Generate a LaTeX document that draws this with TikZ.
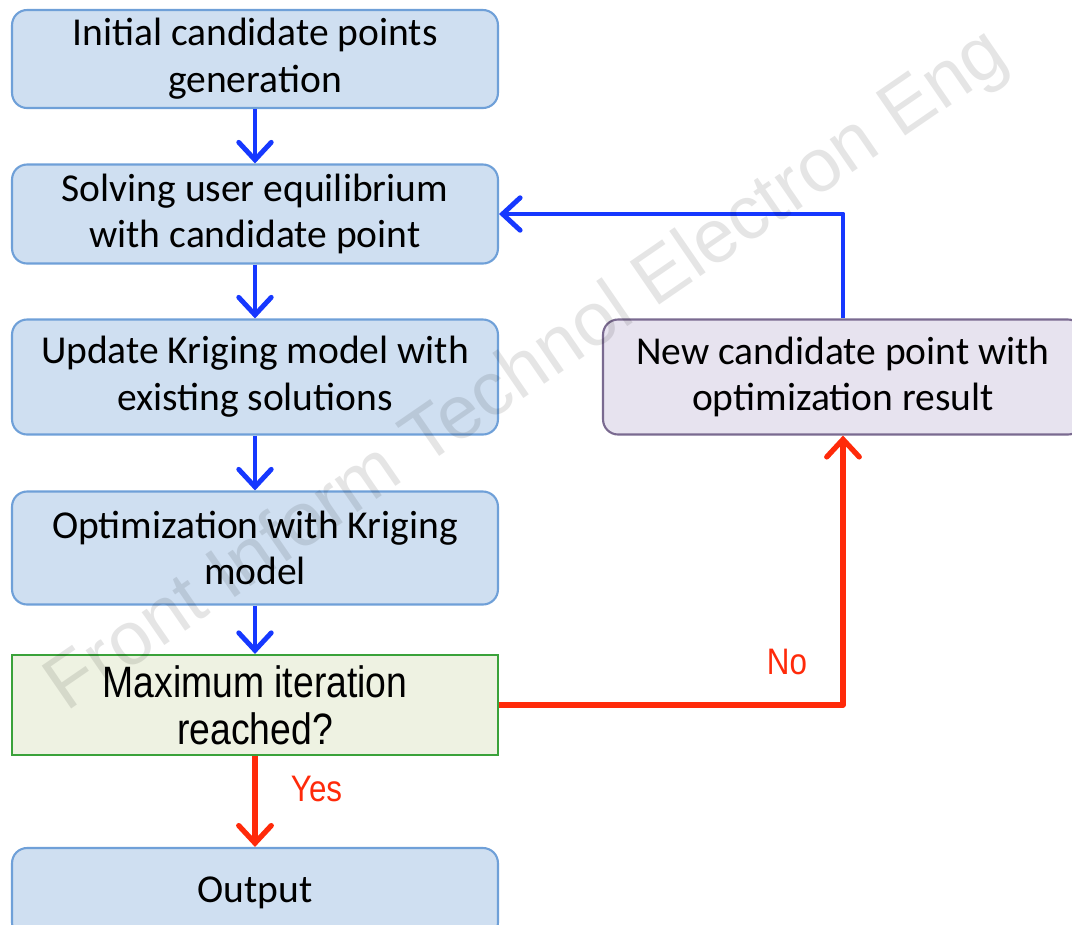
\documentclass[tikz,border=0pt]{standalone}
\usepackage{fontspec}
\setmainfont{Carlito}
\newfontfamily\narrowfont[FakeStretch=0.85]{Liberation Sans}
\newfontfamily\markfont{Liberation Sans}
\usetikzlibrary{arrows.meta}

\definecolor{boxblue}{HTML}{CFDFF1}
\definecolor{lineblue}{HTML}{6FA0D8}
\definecolor{boxgreen}{HTML}{EEF2E2}
\definecolor{linegreen}{HTML}{3AA23A}
\definecolor{boxpurple}{HTML}{E7E3EF}
\definecolor{linepurple}{HTML}{7A6A90}
\definecolor{flowblue}{HTML}{1638FF}
\definecolor{flowred}{HTML}{FF2A0A}

\begin{document}
\begin{tikzpicture}[x=0.02cm,y=-0.02cm]

\tikzset{%
  stepbox/.style  = {draw=lineblue,fill=boxblue,line width=1.2pt,rounded corners=0.3cm,
                     minimum width=9.72cm,align=center,font=\fontsize{22.5}{26.6}\selectfont},
  testbox/.style  = {draw=linegreen,fill=boxgreen,line width=1.2pt,
                     minimum width=9.72cm,minimum height=2cm,align=center,
                     font=\narrowfont\fontsize{25}{26.6}\selectfont},
  newbox/.style   = {draw=linepurple,fill=boxpurple,line width=1.2pt,rounded corners=0.3cm,
                     minimum width=9.6cm,minimum height=2.3cm,align=center,
                     font=\fontsize{22.5}{26.6}\selectfont},
  flow/.style     = {flowblue,line width=2.8pt,-{Straight Barb[length=3.5mm,width=6.5mm,line cap=round]}},
  decide/.style   = {flowred,line width=3pt,-{Straight Barb[length=3.5mm,width=6.5mm,line cap=round]}},
  answer/.style   = {flowred,font=\narrowfont\fontsize{21}{24}\selectfont},
}

\useasboundingbox (0,0) rectangle (1072,924);

% Main column
\node[stepbox,minimum height=1.96cm] (init)  at (255,59)  {Initial candidate points\\generation};
\node[stepbox,minimum height=1.98cm] (solve) at (255,214) {Solving user equilibrium\\with candidate point};
\node[stepbox,minimum height=2.3cm]  (upd)   at (255,377) {Update Kriging model with\\existing solutions};
\node[stepbox,minimum height=2.26cm] (opt)   at (255,548) {Optimization with Kriging\\model};
\node[testbox]                       (max)   at (255,705) {Maximum iteration\\reached?};
\node[stepbox,minimum height=1.8cm]  (out)   at (255,893) {Output};

% Loop box
\node[newbox] (new) at (843,377) {New candidate point with\\optimization result};

% Blue connectors
\draw[flow] (init) -- (solve);
\draw[flow] (solve) -- (upd);
\draw[flow] (upd) -- (opt);
\draw[flow] (opt) -- (max);
\draw[flow,line join=round] (new.north) |- (solve.east);

% Red connectors
\draw[decide] (max) -- node[answer,right=0.55cm,pos=0.36]{Yes} (out);
\draw[decide,line join=round] (max.east) -| node[answer,left=0.55cm,pos=0.58]{No} (new.south);

% Watermark
\node[font=\markfont\fontsize{43}{43}\selectfont,text=black,opacity=0.1,rotate=34.5]
  (mark) at (528,372) {Front Inform Technol Electron Eng};

\end{tikzpicture}
\end{document}
